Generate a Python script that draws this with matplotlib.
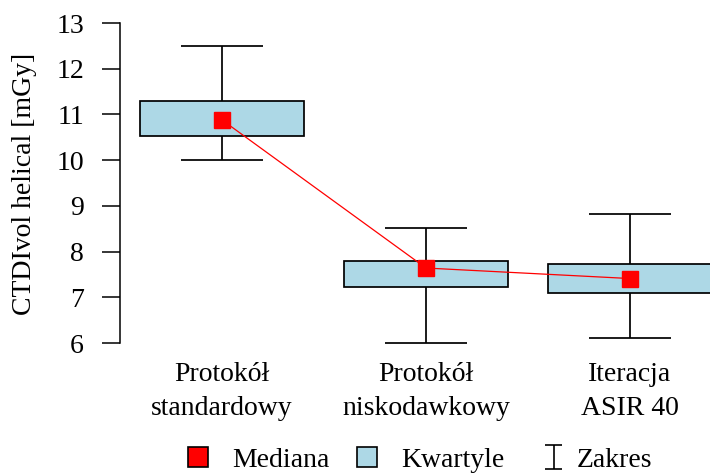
import matplotlib
matplotlib.use("Agg")
import matplotlib.pyplot as plt
import numpy as np
from matplotlib.lines import Line2D
from matplotlib.path import Path

categories = ["Protokół\nstandardowy", "Protokół\nniskodawkowy", "Iteracja\nASIR 40"]
q1 = [10.53, 7.22, 7.09]
q3 = [11.30, 7.80, 7.73]
lo = [10.0, 6.0, 6.12]
hi = [12.50, 8.51, 8.82]
median = [10.88, 7.64, 7.41]
yticks = [6, 7, 8, 9, 10, 11, 12, 13]
legend_labels = ["Mediana", "Kwartyle", "Zakres"]

plt.rcParams['font.family'] = ['Liberation Serif', 'DejaVu Serif']
FS = 20

fig = plt.figure(figsize=(7.10, 4.74), dpi=100)
W, H = 710, 474
ax = fig.add_axes([120 / W, (H - 343) / H, 612 / W, 320 / H])

x = np.arange(1, len(categories) + 1)
q1a, q3a = np.array(q1), np.array(q3)
lw = 1.25

# whiskers
ax.vlines(x, lo, q1a, color='black', lw=lw, zorder=1, clip_on=False)
ax.vlines(x, q3a, hi, color='black', lw=lw, zorder=1, clip_on=False)
ax.hlines(lo, x - 0.2, x + 0.2, color='black', lw=lw, zorder=1, clip_on=False)
ax.hlines(hi, x - 0.2, x + 0.2, color='black', lw=lw, zorder=1, clip_on=False)
# boxes
ax.bar(x, q3a - q1a, bottom=q1a, width=0.8, color='#ADD8E6', edgecolor='black',
       linewidth=lw, zorder=2, clip_on=False)
# medians
ax.plot(x, median, color='red', lw=0.9, zorder=3, clip_on=False)
ax.plot(x, median, ls='none', marker='s', ms=11.5, color='red', mec='red', zorder=4,
        clip_on=False)

ax.set_xlim(0.5, 3.5)
ax.set_ylim(6, 13)
ax.set_yticks(yticks)
ax.set_yticklabels([str(t) for t in yticks], fontsize=FS)
ax.tick_params(axis='y', length=13, width=1.1, pad=13, direction='out')
ax.set_xticks(x)
ax.set_xticklabels(categories, fontsize=FS, linespacing=1.45)
ax.tick_params(axis='x', length=0, pad=14)
for s in ['top', 'right', 'bottom']:
    ax.spines[s].set_visible(False)
ax.spines['left'].set_linewidth(1.1)
ax.spines['left'].set_bounds(6, 13)
ax.set_facecolor('none')

fig.text(25 / W, (H - 184) / H, "CTDIvol helical [mGy]", rotation=90, fontsize=FS,
         ha='center', va='center')

# legend: "I" range symbol, shifted right within its handle
c, hw = 0.93, 0.68
ibar = Path([(c - hw, 1), (c + hw, 1), (c, 1), (c, -1), (c - hw, -1), (c + hw, -1)],
            [Path.MOVETO, Path.LINETO, Path.MOVETO, Path.LINETO, Path.MOVETO, Path.LINETO])
maxabs = c + hw
handles = [
    Line2D([], [], ls='none', marker='s', ms=14, mfc='red', mec='black', mew=1.2),
    Line2D([], [], ls='none', marker='s', ms=14, mfc='#ADD8E6', mec='black', mew=1.2),
    Line2D([], [], ls='none', marker=ibar, ms=18 * maxabs, mfc='none', mec='black', mew=1.2),
]
fig.legend(handles, legend_labels, loc='center', bbox_to_anchor=(418 / W, (H - 460) / H),
           ncol=3, frameon=False, fontsize=FS, handlelength=1.0, handletextpad=0.75,
           columnspacing=0.83, borderpad=0, borderaxespad=0)

fig.savefig("out.png", dpi=100)
